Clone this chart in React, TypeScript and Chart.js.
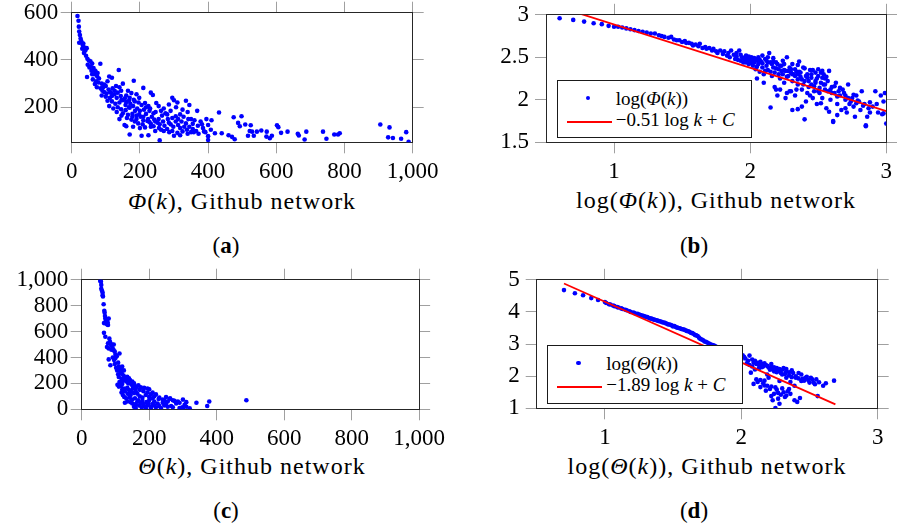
import React, { useEffect, useRef } from 'react';
import { Chart, registerables } from 'chart.js';

Chart.register(...registerables);

const FONT = "'Liberation Serif', 'Times New Roman', serif";

// ---------- (a) Phi(k) vs k ----------
const A_POINTS: number[][] = [
  [17,586],[20,566],[21,541],[22,520],[24,506],[26,491],[22,473],[29,473],[33,462],[38,452],[44,450],[31,448],[40,440],[36,430],[42,418],[46,405],[50,398],[55,394],[47,380],[60,385],[52,368],[64,366],[58,355],[70,352],[84,384],[45,328],[66,340],[75,330],[80,322],[62,318],[72,310],[68,298],[78,305],[88,300],[96,296],[105,310],[110,330],[118,325],[92,285],[100,290],[85,280],[74,285],[108,275],[120,280],[130,290],[140,285],[95,265],[115,262],[125,255],[135,262],[88,250],[100,245],[112,240],[145,270],[138,358],[150,300],[165,270],[182,312],[175,260],[160,250],[170,240],[190,255],[210,282],[232,262],[238,252],[105,228],[118,225],[128,215],[140,220],[150,230],[160,222],[172,215],[185,225],[196,220],[205,210],[215,218],[225,205],[110,205],[122,195],[135,200],[145,192],[158,188],[168,200],[180,205],[192,195],[200,185],[212,190],[248,218],[255,205],[270,195],[285,212],[295,240],[300,230],[310,220],[335,228],[345,210],[228,185],[240,175],[150,175],[165,168],[178,172],[190,165],[202,160],[218,172],[235,160],[255,150],[265,165],[280,170],[295,155],[305,162],[318,170],[325,190],[340,180],[368,185],[350,150],[360,145],[378,140],[395,150],[410,145],[432,178],[475,158],[498,162],[140,150],[155,125],[175,148],[185,140],[195,132],[208,128],[222,142],[232,130],[245,140],[258,128],[272,122],[285,135],[298,118],[312,125],[322,140],[335,132],[345,118],[355,108],[370,122],[385,112],[400,125],[408,105],[160,120],[180,118],[200,112],[215,115],[232,118],[245,100],[262,105],[280,108],[295,100],[310,92],[325,98],[340,88],[358,95],[372,88],[388,98],[400,78],[170,85],[205,80],[225,82],[258,60],[300,80],[318,82],[400,62],[420,90],[440,90],[460,82],[470,75],[478,65],[488,134],[493,120],[509,127],[525,124],[522,100],[529,97],[517,80],[534,80],[543,97],[556,102],[572,97],[571,76],[581,69],[587,80],[602,124],[606,116],[614,92],[633,97],[663,88],[666,81],[683,64],[688,97],[737,97],[747,67],[770,85],[781,85],[786,90],[905,127],[932,115],[928,73],[942,70],[966,67],[981,95],[988,54],
  [90,270],[102,258],[118,248],[132,240],[146,232],[158,210],[170,198],[186,185],[198,170],[210,160],[224,150],[242,148],[252,135],[268,140],[282,150],[290,128],[305,140],[318,112],[330,118],[342,150],[355,130],[365,100],[382,128],[392,95],[112,265],[126,270],[144,248],[156,238],[168,228],[182,232],[198,240],[218,200],[230,195],[246,180],[262,185],[275,175],[290,185],[306,200],[312,150],[328,160],[338,105],[350,95],[132,180],[146,165],[162,155],[178,160],[190,150],[210,145],[228,138],[240,120],[256,112],[270,100],[286,95],[60,340],[68,355],[76,345],[56,372],[34,470],[28,480]
];
const A_X_TICKS = [0, 200, 400, 600, 800, 1000];
const A_Y_TICKS = [200, 400, 600];

// ---------- (b) log Phi(k) vs log k ----------
const B_POINTS: number[][] = [
  [0.60,2.96],[0.70,2.94],[0.78,2.92],[0.85,2.90],[0.91,2.89],[0.96,2.87],[1.00,2.86],[1.03,2.86],[1.06,2.85],[1.09,2.84],[1.12,2.83],[1.15,2.82],[1.18,2.81],[1.21,2.80],[1.24,2.79],[1.27,2.78],[1.30,2.78],[1.33,2.76],[1.35,2.75],[1.37,2.74],[1.40,2.73],[1.42,2.74],[1.44,2.71],[1.46,2.70],[1.48,2.70],[1.50,2.68],[1.52,2.69],[1.53,2.67],[1.55,2.67],[1.57,2.66],[1.58,2.64],[1.60,2.65],[1.62,2.63],[1.63,2.66],[1.65,2.61],[1.67,2.62],[1.68,2.60],[1.70,2.61],[1.72,2.58],[1.73,2.60],[1.75,2.57],[1.76,2.55],[1.78,2.58],[1.80,2.54],[1.81,2.57],[1.83,2.52],[1.84,2.55],[1.85,2.50],[1.86,2.58],[1.88,2.53],[1.89,2.48],[1.90,2.51],[1.92,2.58],[1.93,2.46],[1.94,2.50],[1.95,2.44],[1.96,2.48],[1.97,2.52],[1.98,2.45],[1.99,2.42],[2.00,2.47],[2.01,2.50],[2.02,2.40],[2.03,2.44],[2.04,2.36],[2.05,2.47],[2.06,2.42],[2.07,2.33],[2.08,2.45],[2.09,2.38],[2.10,2.30],[2.11,2.48],[2.12,2.40],[2.13,2.35],[2.14,2.55],[2.15,2.44],[2.16,2.28],[2.17,2.38],[2.18,2.32],[2.19,2.12],[2.20,2.42],[2.21,2.36],[2.22,2.25],[2.23,2.40],[2.24,2.30],[2.25,2.20],[2.26,2.34],[2.27,2.50],[2.28,2.28],[2.29,2.10],[2.30,2.36],[2.31,2.22],[2.32,2.30],[2.33,2.05],[2.34,2.33],[2.35,2.18],[2.36,2.45],[2.37,2.27],[2.38,2.12],[2.39,2.38],[2.40,2.22],[2.41,1.98],[2.42,2.30],[2.43,2.15],[2.44,2.05],[2.45,2.26],[2.46,2.35],[2.47,2.10],[2.48,2.20],[2.49,1.95],[2.50,2.28],[2.51,2.14],[2.52,2.32],[2.53,2.02],[2.54,2.18],[2.55,2.25],[2.56,1.90],[2.57,2.10],[2.58,2.34],[2.59,2.00],[2.60,2.15],[2.61,1.75],[2.62,2.08],[2.63,2.20],[2.64,1.95],[2.66,2.05],[2.67,1.88],[2.68,2.12],[2.70,2.00],[2.71,1.85],[2.72,2.18],[2.73,1.95],[2.75,2.02],[2.76,1.92],[2.77,1.80],[2.78,2.05],[2.80,1.98],[2.81,1.88],[2.82,2.10],[2.84,1.95],[2.85,1.70],[2.86,1.80],[2.88,1.97],[2.90,1.92],[2.92,2.10],[2.94,1.85],[2.96,2.05],[2.97,1.83],[2.98,1.98],[3.00,1.72],
  [2.15,1.91],[2.31,1.88],[2.35,1.89],[2.40,1.77],[2.61,1.74],[2.85,1.69],[2.98,1.84],[2.10,2.20],[2.05,2.25],[2.18,2.15],[2.27,2.08],[2.20,2.05],
  [1.98,2.49],[2.02,2.46],[2.06,2.45],[2.12,2.46],[2.16,2.42],[2.22,2.40],[2.25,2.35],[2.30,2.32],[2.35,2.30],[2.42,2.26],[2.48,2.22],[2.52,2.20],[2.45,2.18],[2.38,2.24],[2.33,2.28],[2.28,2.34],[2.55,2.12],[2.60,2.08],[2.65,2.10],[2.70,2.05],[2.74,1.98],[2.78,1.96],[2.83,1.93],[2.87,1.90],[2.44,2.35],[2.50,2.36],[2.54,2.30],[2.48,2.32],[2.40,2.37],[2.36,2.33],
  [1.90,2.55],[1.91,2.47],[1.93,2.53],[1.95,2.49],[1.97,2.44],[1.99,2.51],[2.01,2.43],[2.03,2.49],[2.05,2.39],[2.07,2.47],[2.09,2.43],[2.11,2.34],[2.13,2.44],[2.15,2.33],[2.17,2.45],[2.19,2.37],[2.21,2.30],[2.23,2.34],[2.25,2.42],[2.27,2.27],[2.29,2.38],[2.31,2.30],[2.33,2.36],[2.35,2.24],[2.37,2.32],[2.39,2.18],[2.41,2.28],[2.43,2.22],[2.45,2.30],[2.47,2.16],[2.49,2.25],[2.51,2.08],[2.53,2.26],[2.55,2.18],[2.57,2.22],[2.59,2.12],[2.62,2.16],[2.64,2.04],[2.66,2.14],[2.69,2.08],[2.72,2.02],[2.76,2.06],[2.79,1.99],[2.22,2.12],[2.26,2.02],[2.30,2.10],[2.34,2.12],[2.42,2.08],[2.46,2.02],[2.50,2.10],[2.38,1.92],[2.52,1.96],[2.58,1.86],[2.64,1.82],[2.70,1.90],[2.88,1.85],[2.93,1.95],[2.99,2.08],[2.06,2.50],[2.09,2.52],[2.13,2.50],[2.17,2.49],[2.24,2.46],[2.31,2.42],[2.53,2.34],[2.56,2.27],[2.35,2.41],[2.19,2.44]
];
const B_FIT_SLOPE = -0.51;
const B_FIT_INTERCEPT = 3.396;
const B_FIT_RANGE = [0.6, 3.0];
const B_X_TICKS = [1, 2, 3];
const B_Y_TICKS = [1.5, 2, 2.5, 3];

// ---------- (c) Theta(k) vs k ----------
const C_POINTS: number[][] = [
  [55,990],[57,985],[58,930],[60,915],[62,900],[63,870],[65,810],[68,745],[70,700],[72,690],[75,695],[77,670],[66,665],[73,660],[78,650],[80,700],[66,590],[70,560],[82,545],[78,510],[85,505],[90,500],[95,500],[75,480],[80,470],[88,460],[98,445],[100,420],[112,430],[92,400],[96,380],[80,385],[85,340],[98,350],[102,320],[105,300],[110,330],[120,330],[115,290],[108,270],[125,300],[135,250],[140,240],[110,250],[118,235],[122,220],[128,235],[132,215],[138,200],[145,205],[150,215],[155,200],[112,210],[106,190],[110,175],[116,180],[120,195],[125,160],[135,165],[140,150],[148,140],[152,165],[160,160],[168,185],[175,170],[185,165],[195,160],[200,155],[210,130],[220,115],[118,130],[122,110],[126,95],[132,85],[140,120],[145,110],[155,125],[160,140],[165,120],[172,100],[180,90],[190,110],[200,95],[210,85],[230,90],[240,75],[250,95],[260,80],[270,70],[285,60],[300,75],[310,55],[340,50],[372,25],[378,60],[488,70],[128,50],[135,60],[145,55],[150,45],[160,40],[170,30],[178,15],[185,25],[190,10],[195,30],[205,20],[210,40],[220,15],[235,10],[245,30],[255,20],[265,25],[280,45],[290,10],[298,15],[300,5],[320,8],[165,60],[175,50],[180,65],[192,55],[200,70],[215,60],[225,45],[205,5],[160,10],[155,20],[240,50],[262,85],[255,60],
  [58,960],[62,880],[67,760],[69,720],[74,680],[71,675],[76,655],[84,520],[88,490],[92,470],[95,455],[104,410],[100,395],[108,360],[113,305],[117,310],[119,275],[124,260],[130,245],[137,230],[143,225],[148,190],[156,180],[163,175],[172,150],[183,140],[195,130],[205,115],[215,100],[228,80],[245,70],[275,65],[290,50],[305,35],[120,150],[128,140],[136,120],[142,90],[150,75],[158,85],[168,70],[182,40],[198,45],[215,30],[230,25],[250,40],[270,15],[310,20]
];
const C_X_TICKS = [0, 200, 400, 600, 800, 1000];
const C_Y_TICKS = [0, 200, 400, 600, 800, 1000];

// ---------- (d) log Theta(k) vs log k ----------
const D_POINTS: number[][] = [
  [0.70,4.68],[0.78,4.58],[0.84,4.52],[0.90,4.43],[0.95,4.37],[1.00,4.31],[1.03,4.24],[1.06,4.20],[1.09,4.15],[1.12,4.11],[1.15,4.07],[1.18,4.02],[1.21,3.98],[1.24,3.94],[1.26,3.90],[1.28,3.88],[1.30,3.85],[1.32,3.82],[1.34,3.79],[1.36,3.76],[1.38,3.74],[1.40,3.71],[1.42,3.68],[1.44,3.66],[1.46,3.62],[1.48,3.60],[1.50,3.55],[1.52,3.53],[1.54,3.50],[1.56,3.47],[1.58,3.45],[1.60,3.41],[1.62,3.38],[1.63,3.35],[1.65,3.32],[1.66,3.28],[1.68,3.25],[1.69,3.20],[1.70,3.16],[1.72,3.12],[1.73,3.08],[1.75,3.05],[1.76,3.02],[1.78,2.98],[1.80,2.95],[1.82,2.91],[1.84,2.88],[1.86,2.85],[1.88,2.80],[1.90,2.75],[1.92,2.70],[1.95,2.68],[1.98,2.62],[2.01,2.65],[2.03,2.55],[2.05,2.48],[2.06,2.64],[2.08,2.52],[2.10,2.48],[2.10,2.21],[2.07,2.11],[2.11,1.90],[2.12,2.42],[2.14,2.45],[2.15,2.38],[2.16,2.30],[2.17,1.86],[2.17,1.71],[2.09,1.76],[2.14,1.66],[2.18,2.35],[2.20,2.27],[2.21,1.60],[2.22,2.30],[2.23,2.22],[2.23,1.25],[2.24,2.15],[2.25,1.01],[2.26,2.25],[2.27,2.17],[2.27,1.30],[2.28,1.14],[2.29,2.10],[2.30,2.20],[2.31,1.50],[2.32,2.07],[2.33,2.15],[2.34,1.53],[2.35,2.02],[2.36,1.45],[2.37,1.97],[2.38,2.10],[2.39,1.25],[2.40,2.00],[2.41,1.20],[2.42,1.93],[2.43,1.32],[2.44,2.05],[2.46,1.86],[2.48,1.98],[2.50,1.80],[2.52,1.90],[2.54,1.75],[2.56,1.38],[2.57,1.81],[2.60,1.70],[2.68,1.86],[2.25,1.65],[2.19,2.05],[2.13,2.25],[2.28,1.85],[2.33,1.95],[2.20,1.95],[2.36,1.82],[2.39,1.70],[2.45,1.92],[2.29,1.42],[2.32,1.35],[2.24,1.45],[2.18,1.55],
  [1.01,4.28],[1.04,4.23],[1.07,4.18],[1.10,4.14],[1.13,4.09],[1.16,4.05],[1.19,4.00],[1.22,3.96],[1.25,3.92],[1.27,3.89],[1.29,3.86],[1.31,3.84],[1.33,3.80],[1.35,3.78],[1.37,3.75],[1.39,3.72],[1.41,3.70],[1.43,3.67],[1.45,3.64],[1.47,3.61],[1.49,3.58],[1.51,3.56],[1.53,3.51],[1.55,3.49],[1.57,3.46],[1.59,3.43],[1.61,3.40],[1.64,3.34],[1.67,3.27],[1.71,3.14],[1.74,3.07],[1.77,3.00],[1.79,2.97],[1.81,2.93],[1.83,2.90],[1.85,2.86],[1.87,2.83],
  [1.96,2.58],[2.00,2.52],[2.02,2.60],[2.04,2.40],[2.06,2.35],[2.08,2.30],[2.09,2.42],[2.11,2.38],[2.13,2.35],[2.15,2.28],[2.17,2.40],[2.19,2.32],[2.21,2.20],[2.22,2.38],[2.24,2.28],[2.26,2.12],[2.28,2.22],[2.30,2.05],[2.31,2.25],[2.33,2.22],[2.35,2.12],[2.37,2.18],[2.40,1.95],[2.42,2.10],[2.44,1.85],[2.47,1.95],[2.49,1.88],[2.51,1.95],[2.53,1.80],[2.55,1.90],[2.62,1.78],[2.14,1.88],[2.16,1.78],[2.19,1.70],[2.12,1.82],[2.22,1.68],[2.26,1.58],[2.30,1.62],[2.35,1.60],[2.27,1.48],[2.22,1.38],[2.33,1.40]
];
const D_FIT_SLOPE = -1.89;
const D_FIT_INTERCEPT = 6.207;
const D_FIT_RANGE = [0.7, 2.69];
const D_X_TICKS = [1, 2, 3];
const D_Y_TICKS = [1, 2, 3, 4, 5];

type Box = { left: number; top: number; width: number; height: number };
type Area = { l: number; t: number; r: number; b: number };

type PanelProps = {
  box: Box;
  area: Area;
  points: number[][];
  xMin: number; xMax: number; yMin: number; yMax: number;
  xTicks: number[]; yTicks: number[];
  yPad: number;
  xPad: number;
  fit?: { slope: number; intercept: number; range: number[] };
};

const fmt = (v: number) => Number(v).toLocaleString('en-US');

function Panel(p: PanelProps) {
  const ref = useRef<HTMLCanvasElement | null>(null);
  useEffect(() => {
    const { box, area } = p;
    const leftW = area.l - box.left;
    const rightW = box.left + box.width - area.r;
    const topH = area.t - box.top;
    const botH = box.top + box.height - area.b;
    const grid = { drawOnChartArea: false, drawTicks: true, tickLength: 11, color: '#a0a0a0', lineWidth: 1 };
    const border = { display: true, color: '#262626', width: 1 };
    const tickFont = { family: FONT, size: 23 };
    const setTicks = (vals: number[]) => (s: any) => { s.ticks = vals.map((v) => ({ value: v })); };
    const datasets: any[] = [
      {
        label: 'points',
        data: p.points.map((q) => ({ x: q[0], y: q[1] })),
        pointRadius: 2.3,
        pointBackgroundColor: '#0000ff',
        pointBorderWidth: 0,
        showLine: false,
        order: 1,
      },
    ];
    if (p.fit) {
      const f = p.fit;
      datasets.push({
        label: 'fit',
        data: f.range.map((x) => ({ x, y: f.slope * x + f.intercept })),
        showLine: true,
        borderColor: '#ff0000',
        borderWidth: 1.8,
        pointRadius: 0,
        order: 0,
        clip: 0,
      });
    }
    const chart = new Chart(ref.current as HTMLCanvasElement, {
      type: 'scatter',
      data: { datasets },
      options: {
        animation: false,
        responsive: false,
        maintainAspectRatio: false,
        layout: { padding: 0 },
        plugins: { legend: { display: false }, tooltip: { enabled: false } },
        events: [],
        scales: {
          x: {
            type: 'linear', position: 'bottom', min: p.xMin, max: p.xMax,
            afterBuildTicks: setTicks(p.xTicks),
            ticks: { autoSkip: false, maxRotation: 0, padding: p.xPad, color: '#000', font: tickFont, callback: (v: any) => fmt(v) },
            grid, border,
            afterFit: (s: any) => { s.height = botH; },
          },
          x2: {
            type: 'linear', position: 'top', min: p.xMin, max: p.xMax,
            afterBuildTicks: setTicks(p.xTicks),
            ticks: { display: false },
            grid, border,
            afterFit: (s: any) => { s.height = topH; },
          },
          y: {
            type: 'linear', position: 'left', min: p.yMin, max: p.yMax,
            afterBuildTicks: setTicks(p.yTicks),
            ticks: { autoSkip: false, padding: p.yPad, color: '#000', font: tickFont, callback: (v: any) => fmt(v) },
            grid, border,
            afterFit: (s: any) => { s.width = leftW; },
          },
          y2: {
            type: 'linear', position: 'right', min: p.yMin, max: p.yMax,
            afterBuildTicks: setTicks(p.yTicks),
            ticks: { display: false },
            grid, border,
            afterFit: (s: any) => { s.width = rightW; },
          },
        } as any,
      },
    } as any);
    return () => chart.destroy();
  }, []);
  return (
    <canvas
      ref={ref}
      width={p.box.width}
      height={p.box.height}
      style={{ position: 'absolute', left: p.box.left, top: p.box.top, width: p.box.width, height: p.box.height, display: 'block' }}
    />
  );
}

const textBase: React.CSSProperties = {
  position: 'absolute',
  fontFamily: FONT,
  color: '#000',
  whiteSpace: 'nowrap',
  textAlign: 'center',
};

function AxisTitle({ cx, baseline, children }: { cx: number; baseline: number; children: React.ReactNode }) {
  const size = 24;
  return (
    <div style={{ ...textBase, left: cx - 200, width: 400, top: baseline - 0.8375 * size, fontSize: size, lineHeight: `${size}px`, letterSpacing: '1px' }}>
      {children}
    </div>
  );
}

function Caption({ cx, baseline, letter }: { cx: number; baseline: number; letter: string }) {
  const size = 23;
  return (
    <div style={{ ...textBase, left: cx - 50, width: 100, top: baseline - 0.8375 * size, fontSize: size, lineHeight: `${size}px` }}>
      (<b>{letter}</b>)
    </div>
  );
}

function Legend({ left, top, width, height, first, second }: { left: number; top: number; width: number; height: number; first: React.ReactNode; second: React.ReactNode }) {
  const size = 19;
  const txt: React.CSSProperties = { position: 'absolute', left: 58, fontFamily: FONT, fontSize: size, lineHeight: `${size}px`, whiteSpace: 'nowrap', color: '#000' };
  return (
    <div style={{ position: 'absolute', left, top, width, height, boxSizing: 'border-box', border: '1px solid #1a1a1a', background: '#fff' }}>
      <div style={{ position: 'absolute', left: 30.3 - 2.3, top: 17 - 2.3, width: 4.6, height: 4.6, borderRadius: '50%', background: '#0000ff' }} />
      <div style={{ position: 'absolute', left: 9, top: 41 - 1, width: 45, height: 2, background: '#ff0000' }} />
      <div style={{ ...txt, top: 24 - 0.8375 * size }}>{first}</div>
      <div style={{ ...txt, top: 44.5 - 0.8375 * size }}>{second}</div>
    </div>
  );
}

export default function App() {
  return (
    <div style={{ position: 'fixed', left: 0, top: 0, width: 897, height: 530, background: '#fff', overflow: 'hidden' }}>
      <Panel
        box={{ left: 0, top: -5, width: 450, height: 190 }}
        area={{ l: 71.7, t: 12.7, r: 412.7, b: 142.3 }}
        points={A_POINTS}
        xMin={0} xMax={1000} yMin={52} yMax={600}
        xTicks={A_X_TICKS} yTicks={A_Y_TICKS}
        yPad={2.5} xPad={5}
      />
      <Panel
        box={{ left: 450, top: -5, width: 447, height: 190 }}
        area={{ l: 546, t: 12.7, r: 887.3, b: 142.3 }}
        points={B_POINTS}
        xMin={0.5} xMax={3} yMin={1.5} yMax={3}
        xTicks={B_X_TICKS} yTicks={B_Y_TICKS}
        yPad={6} xPad={5}
        fit={{ slope: B_FIT_SLOPE, intercept: B_FIT_INTERCEPT, range: B_FIT_RANGE }}
      />
      <Panel
        box={{ left: 0, top: 260, width: 450, height: 190 }}
        area={{ l: 81.7, t: 279.7, r: 422.7, b: 409.3 }}
        points={C_POINTS}
        xMin={0} xMax={1000} yMin={0} yMax={1000}
        xTicks={C_X_TICKS} yTicks={C_Y_TICKS}
        yPad={2.5} xPad={5}
      />
      <Panel
        box={{ left: 450, top: 260, width: 447, height: 190 }}
        area={{ l: 536.7, t: 278.7, r: 877.7, b: 408.3 }}
        points={D_POINTS}
        xMin={0.5} xMax={3} yMin={1} yMax={5}
        xTicks={D_X_TICKS} yTicks={D_Y_TICKS}
        yPad={6} xPad={5}
        fit={{ slope: D_FIT_SLOPE, intercept: D_FIT_INTERCEPT, range: D_FIT_RANGE }}
      />

      <Legend
        left={556.7} top={80} width={195.3} height={57.7}
        first={<span>log(<i>Φ</i>(<i>k</i>))</span>}
        second={<span>−0.51 log <i>k</i> + <i>C</i></span>}
      />
      <Legend
        left={547.3} top={345} width={196} height={58.7}
        first={<span>log(<i>Θ</i>(<i>k</i>))</span>}
        second={<span>−1.89 log <i>k</i> + <i>C</i></span>}
      />

      <AxisTitle cx={242} baseline={209}><i>Φ</i>(<i>k</i>), Github network</AxisTitle>
      <AxisTitle cx={716} baseline={208.5}>log(<i>Φ</i>(<i>k</i>)), Github network</AxisTitle>
      <AxisTitle cx={252} baseline={474.5}><i>Θ</i>(<i>k</i>), Github network</AxisTitle>
      <AxisTitle cx={707} baseline={474.5}>log(<i>Θ</i>(<i>k</i>)), Github network</AxisTitle>

      <Caption cx={226} baseline={253} letter="a" />
      <Caption cx={694} baseline={253} letter="b" />
      <Caption cx={226} baseline={518} letter="c" />
      <Caption cx={694} baseline={518} letter="d" />
    </div>
  );
}
